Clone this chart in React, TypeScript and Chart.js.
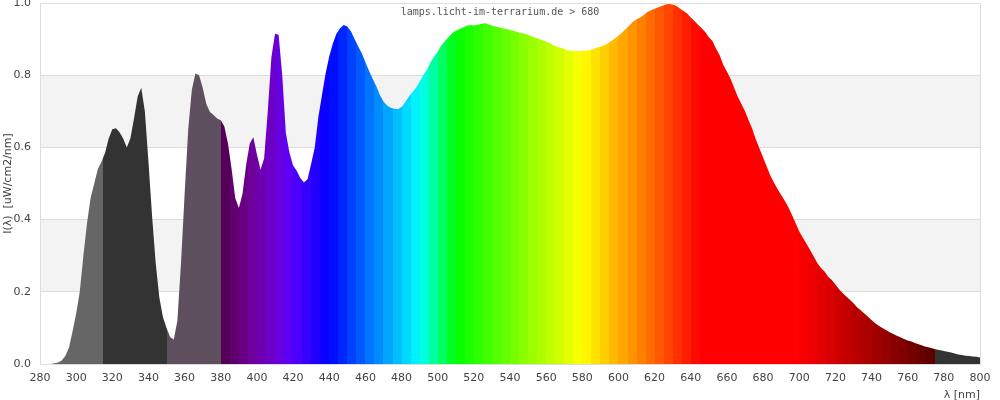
import { useEffect, useRef } from "react";
import { Chart, registerables } from "chart.js";

Chart.register(...registerables);

// Wavelength sampling (nm)
const START_NM = 280;
const STEP_NM = 2;

// Relative spectral intensity, one value every 2 nm from 280 to 800 nm
const intensity: number[] = [
  0, 0, 0, 0, 0.002, 0.004, 0.01, 0.022, 0.045, 0.09,
  0.14, 0.2, 0.3, 0.39, 0.46, 0.5, 0.54, 0.56, 0.585, 0.625,
  0.65, 0.653, 0.642, 0.625, 0.6, 0.625, 0.68, 0.74, 0.765, 0.7,
  0.56, 0.41, 0.28, 0.185, 0.13, 0.1, 0.075, 0.068, 0.12, 0.28,
  0.47, 0.65, 0.76, 0.805, 0.8, 0.765, 0.72, 0.698, 0.69, 0.68,
  0.675, 0.658, 0.61, 0.54, 0.46, 0.432, 0.47, 0.55, 0.61, 0.628,
  0.58, 0.538, 0.57, 0.7, 0.85, 0.915, 0.912, 0.8, 0.64, 0.585,
  0.55, 0.535, 0.515, 0.503, 0.512, 0.555, 0.6, 0.685, 0.745, 0.805,
  0.852, 0.888, 0.915, 0.93, 0.939, 0.935, 0.922, 0.9, 0.88, 0.861,
  0.836, 0.812, 0.79, 0.77, 0.745, 0.727, 0.716, 0.71, 0.707, 0.706,
  0.712, 0.725, 0.74, 0.753, 0.765, 0.782, 0.8, 0.815, 0.835, 0.852,
  0.865, 0.882, 0.895, 0.905, 0.916, 0.923, 0.927, 0.932, 0.937, 0.939,
  0.938, 0.94, 0.942, 0.944, 0.941, 0.938, 0.935, 0.932, 0.93, 0.928,
  0.925, 0.923, 0.92, 0.917, 0.915, 0.912, 0.908, 0.904, 0.9, 0.897,
  0.893, 0.889, 0.883, 0.879, 0.876, 0.873, 0.869, 0.867, 0.867, 0.867,
  0.867, 0.868, 0.87, 0.872, 0.876, 0.879, 0.883, 0.888, 0.895, 0.902,
  0.909, 0.918, 0.928, 0.938, 0.948, 0.955, 0.96, 0.967, 0.975, 0.98,
  0.984, 0.988, 0.992, 0.996, 0.997, 0.996, 0.992, 0.985, 0.978, 0.971,
  0.96, 0.95, 0.94, 0.93, 0.92, 0.905, 0.895, 0.873, 0.855, 0.828,
  0.81, 0.79, 0.765, 0.74, 0.72, 0.7, 0.675, 0.652, 0.622, 0.597,
  0.572, 0.547, 0.522, 0.503, 0.485, 0.468, 0.452, 0.434, 0.413, 0.39,
  0.367, 0.35, 0.333, 0.316, 0.298, 0.28, 0.266, 0.256, 0.242, 0.233,
  0.22, 0.207, 0.197, 0.187, 0.178, 0.168, 0.157, 0.149, 0.14, 0.131,
  0.122, 0.113, 0.106, 0.1, 0.094, 0.088, 0.083, 0.078, 0.074, 0.069,
  0.065, 0.062, 0.058, 0.055, 0.051, 0.048, 0.046, 0.043, 0.04, 0.038,
  0.036, 0.034, 0.032, 0.029, 0.026, 0.025, 0.023, 0.022, 0.021, 0.02,
  0.018,
];

const wavelengths: number[] = intensity.map((_, i) => START_NM + i * STEP_NM);

const X_MIN = 280;
const X_MAX = 800;
const X_STEP = 20;
const Y_MIN = 0;
const Y_MAX = 1;
const Y_STEP = 0.2;

const CHART_LABEL = "lamps.licht-im-terrarium.de > 680";
const Y_TITLE = "I(\u03bb)  [uW/cm2/nm]";
const X_TITLE = "\u03bb [nm]";

// Colour of the 5 nm band starting at `start` (UV / IR shown in greys)
function bandColor(start: number): string {
  if (start < 315) return "#666666";
  if (start < 350) return "#333333";
  if (start < 380) return "#5e505e";
  if (start >= 775) return "#333333";
  const w = start + 2.5;
  let r = 0, g = 0, b = 0;
  if (w < 440) { r = (440 - w) / 60; b = 1; }
  else if (w < 490) { g = (w - 440) / 50; b = 1; }
  else if (w < 510) { g = 1; b = (510 - w) / 20; }
  else if (w < 580) { r = (w - 510) / 70; g = 1; }
  else if (w < 645) { r = 1; g = (645 - w) / 65; }
  else { r = 1; }
  let f = 1;
  if (w < 420) f = 0.3 + (0.7 * (w - 380)) / 40;
  else if (w > 700) f = 0.3 + (0.7 * (780 - w)) / 80;
  const c = (v: number) => Math.round(255 * v * f);
  return `rgb(${c(r)},${c(g)},${c(b)})`;
}

// Band edges: grey UV blocks, 5 nm visible bands, grey IR block
function bandEdges(): number[] {
  const e = [280, 315, 350];
  for (let w = 380; w <= 775; w += 5) e.push(w);
  e.push(800);
  return e;
}

function spectrumFill(ctx: any) {
  const chart = ctx.chart;
  const area = chart.chartArea;
  const xs = chart.scales.x;
  if (!area || !xs) return "#888888";
  const g = chart.ctx.createLinearGradient(area.left, 0, area.right, 0);
  const width = area.right - area.left;
  const edges = bandEdges();
  for (let i = 0; i < edges.length - 1; i++) {
    const col = bandColor(edges[i]);
    const p0 = Math.min(1, Math.max(0, (xs.getPixelForValue(edges[i]) - area.left) / width));
    const p1 = Math.min(1, Math.max(0, (xs.getPixelForValue(edges[i + 1]) - area.left) / width));
    g.addColorStop(p0, col);
    g.addColorStop(p1, col);
  }
  return g;
}

const bandsPlugin = {
  id: "bands",
  beforeDraw(chart: any) {
    const { ctx, chartArea, scales } = chart;
    const y = scales.y;
    ctx.save();
    ctx.fillStyle = "#f3f3f3";
    [[0.2, 0.4], [0.6, 0.8]].forEach(([a, b]) => {
      const top = y.getPixelForValue(b);
      const bot = y.getPixelForValue(a);
      ctx.fillRect(chartArea.left, top, chartArea.right - chartArea.left, bot - top);
    });
    ctx.restore();
  },
  afterDraw(chart: any) {
    const { ctx, chartArea } = chart;
    ctx.save();
    ctx.strokeStyle = "#dddddd";
    ctx.lineWidth = 1;
    ctx.beginPath();
    const rx = Math.round(chartArea.right) + 0.5;
    ctx.moveTo(rx, chartArea.top);
    ctx.lineTo(rx, chartArea.bottom);
    ctx.stroke();
    ctx.font = "10px 'DejaVu Sans Mono'";
    ctx.fillStyle = "#555555";
    ctx.textAlign = "center";
    ctx.textBaseline = "middle";
    ctx.fillText(CHART_LABEL, 500, 12.5);
    ctx.restore();
  },
};

export default function App() {
  const ref = useRef<HTMLCanvasElement | null>(null);
  useEffect(() => {
    if (!ref.current) return;
    Chart.defaults.font.family = "'DejaVu Sans', sans-serif";
    const chart = new Chart(ref.current, {
      type: "line",
      data: {
        datasets: [
          {
            data: wavelengths.map((w, i) => ({ x: w, y: intensity[i] })),
            backgroundColor: spectrumFill,
            borderWidth: 0,
            borderColor: "rgba(0,0,0,0)",
            pointRadius: 0,
            tension: 0,
            fill: "origin",
          },
        ],
      },
      options: {
        animation: false,
        responsive: false,
        layout: { padding: { top: 3, right: 20, bottom: 0, left: 0 } },
        plugins: { legend: { display: false }, tooltip: { enabled: false }, title: { display: false } },
        scales: {
          x: {
            type: "linear",
            min: X_MIN,
            max: X_MAX,
            offset: false,
            grid: { display: false, drawTicks: false },
            border: { display: true, color: "#dddddd" },
            ticks: {
              stepSize: X_STEP,
              color: "#444444",
              font: { size: 11 },
              padding: 8,
              maxRotation: 0,
              autoSkip: false,
              callback: (v: any) => String(v),
            },
            title: {
              display: true,
              text: X_TITLE,
              align: "end",
              color: "#444444",
              font: { size: 11, lineHeight: 0.9 },
              padding: { top: 0, bottom: 0 },
            },
            afterFit: (s: any) => { s.height = 36; },
          },
          y: {
            min: Y_MIN,
            max: Y_MAX,
            grid: { color: "#dddddd", drawTicks: false },
            border: { display: true, color: "#dddddd" },
            ticks: {
              stepSize: Y_STEP,
              color: "#444444",
              font: { size: 11 },
              padding: 9,
              callback: (v: any) => Number(v).toFixed(1),
            },
            title: {
              display: true,
              text: Y_TITLE,
              color: "#444444",
              font: { size: 11 },
              padding: { top: 2, bottom: 0 },
            },
            afterFit: (s: any) => {
              s.width = 40;
              s.paddingTop = 0;
              s.paddingBottom = 0;
            },
          },
        },
      },
      plugins: [bandsPlugin],
    } as any);
    return () => chart.destroy();
  }, []);
  return (
    <div style={{ position: "fixed", left: 0, top: 0, width: 1000, height: 400, background: "#fff" }}>
      <canvas ref={ref} width={1000} height={400} />
    </div>
  );
}
